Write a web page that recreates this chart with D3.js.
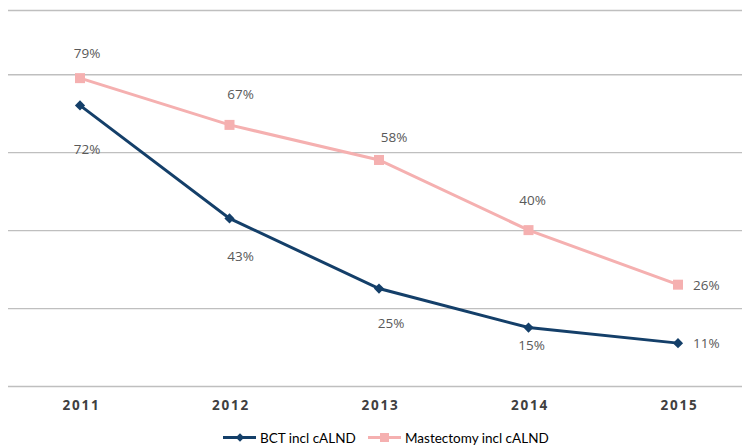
<!DOCTYPE html>
<html>
<head>
<meta charset="utf-8">
<script src="https://cdn.jsdelivr.net/npm/d3@7"></script>
<style>
  html, body { margin: 0; padding: 0; background: #fff; }
  svg { display: block; }
</style>
</head>
<body>
<svg id="chart" width="742" height="445"></svg>
<script>
// ---- data ----
const years = ["2011", "2012", "2013", "2014", "2015"];
const bctValues = [72, 43, 25, 15, 11];
const mastectomyValues = [79, 67, 58, 40, 26];
const seriesNames = ["BCT incl cALND", "Mastectomy incl cALND"];
const gridTicks = [0, 20, 40, 60, 80];

// ---- layout (styling, not data) ----
const W = 742, H = 445;
const svg = d3.select("#chart");
const x = d3.scalePoint().domain(years).range([80, 678]);
const y = d3.scaleLinear().domain([0, 100]).range([386, -3.7]);
const colors = ["#143f69", "#f5b0b0"];
const labelColor = "#595959";

// gridlines via axis
const gridAxis = d3.axisLeft(y).tickValues(gridTicks).tickSize(-(W - 8)).tickFormat("");
const g = svg.append("g").attr("transform", "translate(8,0)").call(gridAxis);
g.select(".domain").remove();
g.selectAll(".tick line").attr("stroke", "#bfbfbf").attr("stroke-width", 1.3);
// top frame line of the plot area
svg.append("line").attr("x1", 8).attr("x2", W).attr("y1", 10.5).attr("y2", 10.5)
  .attr("stroke", "#bfbfbf").attr("stroke-width", 1.3);

// x axis labels
const xAxis = d3.axisBottom(x).tickSize(0).tickPadding(0);
const xg = svg.append("g").attr("transform", "translate(0,399)").call(xAxis);
xg.select(".domain").remove();
xg.selectAll("text")
  .attr("dy", "0.85em")
  .attr("dx", "0.9px")
  .style("font-family", "'Open Sans', 'DejaVu Sans', sans-serif")
  .style("font-weight", "700")
  .style("font-size", "13.5px")
  .style("letter-spacing", "1.8px")
  .attr("fill", "#404040");

const line = d3.line().x((d, i) => x(years[i])).y(d => y(d));

// Mastectomy line
svg.append("path").datum(mastectomyValues).attr("d", line)
  .attr("fill", "none").attr("stroke", colors[1]).attr("stroke-width", 3);
svg.selectAll(".sq").data(mastectomyValues).enter().append("rect")
  .attr("x", (d, i) => x(years[i]) - 5).attr("y", d => y(d) - 5)
  .attr("width", 10).attr("height", 10).attr("fill", colors[1]);

// BCT line
svg.append("path").datum(bctValues).attr("d", line)
  .attr("fill", "none").attr("stroke", colors[0]).attr("stroke-width", 3);
svg.selectAll(".dm").data(bctValues).enter().append("rect")
  .attr("x", -3.6).attr("y", -3.6).attr("width", 7.2).attr("height", 7.2)
  .attr("transform", (d, i) => `translate(${x(years[i])},${y(d)}) rotate(45)`)
  .attr("fill", colors[0]);

// data labels (offsets relative to points, in px)
const mastOffsets = [[7, -20], [11, -26], [15, -18], [4, -25], [15, 5]];
const bctOffsets = [[7, 49], [11, 43], [12, 39], [3, 22], [15, 5]];
const mastAnchor = ["middle", "middle", "middle", "middle", "start"];
const bctAnchor = ["middle", "middle", "middle", "middle", "start"];

function labels(vals, offs, anchors) {
  svg.append("g").selectAll("text").data(vals).enter().append("text")
    .attr("x", (d, i) => x(years[i]) + offs[i][0])
    .attr("y", (d, i) => y(d) + offs[i][1])
    .attr("text-anchor", (d, i) => anchors[i])
    .style("font-family", "'Open Sans', 'DejaVu Sans', sans-serif")
    .style("font-size", "13.5px")
    .attr("fill", labelColor)
    .text(d => d + "%");
}
labels(mastectomyValues, mastOffsets, mastAnchor);
labels(bctValues, bctOffsets, bctAnchor);

// legend
const leg = svg.append("g").attr("transform", "translate(0,437.5)");
const legItems = [
  { name: seriesNames[0], color: colors[0], x: 223, type: "diamond" },
  { name: seriesNames[1], color: colors[1], x: 368, type: "square" }
];
legItems.forEach(it => {
  leg.append("line").attr("x1", it.x).attr("x2", it.x + 33).attr("y1", 0).attr("y2", 0)
    .attr("stroke", it.color).attr("stroke-width", 3);
  if (it.type === "diamond") {
    leg.append("rect").attr("x", -3).attr("y", -3).attr("width", 6).attr("height", 6)
      .attr("transform", `translate(${it.x + 17},0) rotate(45)`).attr("fill", it.color);
  } else {
    leg.append("rect").attr("x", it.x + 12).attr("y", -4.5).attr("width", 9).attr("height", 9)
      .attr("fill", it.color);
  }
  leg.append("text").attr("x", it.x + 37).attr("y", 5.5)
    .style("font-family", "'Lato', 'Open Sans', sans-serif")
    .style("font-size", "13.5px")
    .attr("fill", "#000")
    .text(it.name);
});
</script>
</body>
</html>
